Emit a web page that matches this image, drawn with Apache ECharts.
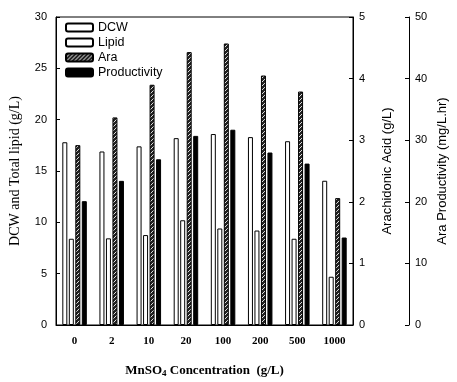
<!DOCTYPE html>
<html>
<head>
<meta charset="utf-8">
<script src="https://cdn.jsdelivr.net/npm/echarts@6/dist/echarts.min.js"></script>
<style>
  html, body { margin: 0; padding: 0; background: #fff; }
  #main { width: 457px; height: 382px; }
</style>
</head>
<body>
<div id="main"></div>
<script>
// MnSO4 concentration levels
var categories = ['0', '2', '10', '20', '100', '200', '500', '1000'];
var dcw = [17.8, 16.9, 17.4, 18.2, 18.6, 18.3, 17.9, 14.05];     // g/L, left axis
var lipid = [8.4, 8.44, 8.76, 10.2, 9.4, 9.2, 8.4, 4.7];         // g/L, left axis
var ara = [2.92, 3.37, 3.9, 4.43, 4.57, 4.05, 3.79, 2.06];       // g/L, right axis
var productivity = [20.1, 23.4, 26.9, 30.7, 31.7, 28.0, 26.2, 14.2]; // mg/L.hr, far right axis

// hatched fill for the Ara bars
function hatch() {
    var c = document.createElement('canvas');
    c.width = 4; c.height = 4;
    var ctx = c.getContext('2d');
    ctx.fillStyle = '#222';
    ctx.fillRect(0, 0, 4, 4);
    ctx.strokeStyle = '#ddd';
    ctx.lineWidth = 1;
    ctx.beginPath();
    ctx.moveTo(0, 4); ctx.lineTo(4, 0);
    ctx.stroke();
    return c;
}

var myChart = echarts.init(document.getElementById('main'));
var sans = 'Liberation Sans';
var serif = 'Liberation Serif';

myChart.setOption({
    animation: false,
    backgroundColor: '#fff',
    legend: {
        orient: 'vertical',
        left: 60,
        top: 16,
        itemWidth: 27,
        itemHeight: 8,
        itemGap: 2,
        textStyle: { fontFamily: sans, fontSize: 12.5, color: '#000' },
        data: ['DCW', 'Lipid', 'Ara', 'Productivity']
    },
    grid: {
        left: 56,
        right: 104,
        top: 17,
        bottom: 57,
        outerBoundsMode: 'none',
        show: true,
        borderColor: '#000',
        borderWidth: 1
    },
    xAxis: {
        type: 'category',
        data: categories,
        axisLine: { lineStyle: { color: '#000' } },
        axisTick: { show: false },
        axisLabel: { margin: 11, fontFamily: serif, fontWeight: 'bold', fontSize: 11, color: '#000' },
        name: '{a|MnSO}{b|4}{a| Concentration  (g/L)}',
        nameLocation: 'middle',
        nameGap: 38,
        nameTextStyle: {
            rich: {
                a: { fontFamily: serif, fontWeight: 'bold', fontSize: 13, color: '#000' },
                b: { fontFamily: serif, fontWeight: 'bold', fontSize: 9, color: '#000', padding: [6, 0, 0, 0] }
            }
        }
    },
    yAxis: [{
        type: 'value',
        min: 0, max: 30, interval: 5,
        position: 'left',
        splitLine: { show: false },
        axisLine: { show: true, lineStyle: { color: '#000' } },
        axisTick: { show: true, inside: true, length: 4, lineStyle: { color: '#000' } },
        axisLabel: { margin: 9, fontFamily: sans, fontSize: 11, color: '#000' },
        name: 'DCW and Total lipid (g/L)',
        nameLocation: 'middle',
        nameGap: 34,
        nameMoveOverlap: false,
        nameTextStyle: { fontFamily: serif, fontSize: 14, color: '#000' }
    }, {
        type: 'value',
        min: 0, max: 5, interval: 1,
        position: 'right',
        splitLine: { show: false },
        axisLine: { show: true, lineStyle: { color: '#000' } },
        axisTick: { show: true, inside: true, length: 4, lineStyle: { color: '#000' } },
        axisLabel: { margin: 6, fontFamily: sans, fontSize: 11, color: '#000' },
        name: 'Arachidonic Acid (g/L)',
        nameLocation: 'middle',
        nameGap: 28,
        nameRotate: 90,
        nameTextStyle: { fontFamily: sans, fontSize: 13, color: '#000' }
    }, {
        type: 'value',
        min: 0, max: 50, interval: 10,
        position: 'right',
        offset: 56,
        splitLine: { show: false },
        axisLine: { show: true, lineStyle: { color: '#000' } },
        axisTick: { show: true, inside: true, length: 4, lineStyle: { color: '#000' } },
        axisLabel: { margin: 6, fontFamily: sans, fontSize: 11, color: '#000' },
        name: 'Ara Productivity (mg/L.hr)',
        nameLocation: 'middle',
        nameGap: 27,
        nameMoveOverlap: false,
        nameRotate: 90,
        nameTextStyle: { fontFamily: sans, fontSize: 13, color: '#000' }
    }],
    series: [{
        name: 'DCW',
        type: 'bar',
        yAxisIndex: 0,
        barWidth: 5,
        barGap: '30%',
        itemStyle: { color: '#fff', borderColor: '#000', borderWidth: 1 },
        data: dcw
    }, {
        name: 'Lipid',
        type: 'bar',
        yAxisIndex: 0,
        barWidth: 5,
        barGap: '30%',
        itemStyle: { color: '#fff', borderColor: '#000', borderWidth: 1 },
        data: lipid
    }, {
        name: 'Ara',
        type: 'bar',
        yAxisIndex: 1,
        barWidth: 5,
        barGap: '30%',
        itemStyle: { color: { image: hatch(), repeat: 'repeat' }, borderColor: '#000', borderWidth: 1 },
        data: ara
    }, {
        name: 'Productivity',
        type: 'bar',
        yAxisIndex: 2,
        barWidth: 5,
        barGap: '30%',
        itemStyle: { color: '#000', borderColor: '#000', borderWidth: 1 },
        data: productivity
    }]
});
</script>
</body>
</html>
